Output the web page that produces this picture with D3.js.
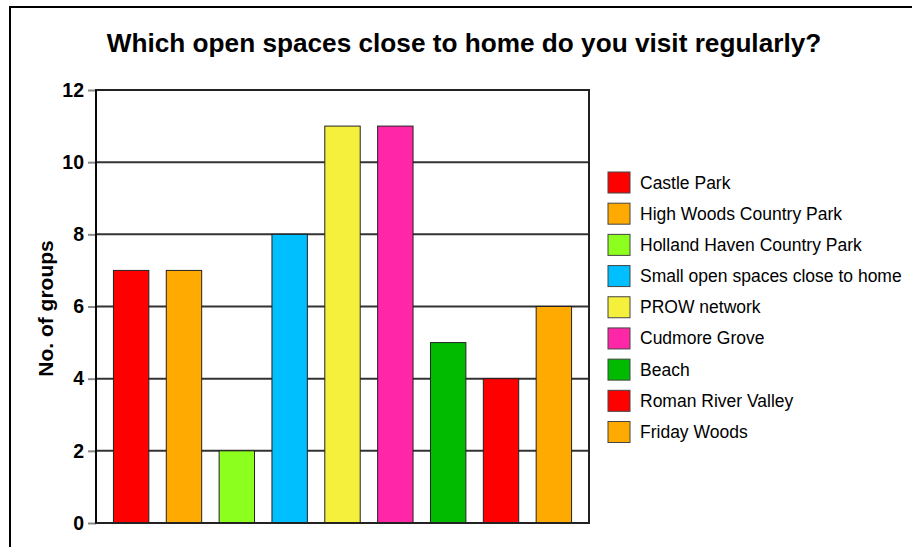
<!DOCTYPE html>
<html>
<head>
<meta charset="utf-8">
<script src="https://cdn.jsdelivr.net/npm/d3@7"></script>
<style>
  html, body { margin: 0; padding: 0; background: #fff; }
  svg { display: block; font-family: "Liberation Sans", Arial, Helvetica, sans-serif; }
</style>
</head>
<body>
<svg id="chart" width="912" height="547"></svg>
<script>
// Survey answers: open spaces visited regularly, counted by group
const categories = [
  "Castle Park",
  "High Woods Country Park",
  "Holland Haven Country Park",
  "Small open spaces close to home",
  "PROW network",
  "Cudmore Grove",
  "Beach",
  "Roman River Valley",
  "Friday Woods"
];
const groupCounts = [7, 7, 2, 8, 11, 11, 5, 4, 6];
const barColors = [
  "#ff0000", "#ffaa00", "#8cff1e", "#00bfff", "#f5f03c",
  "#ff26a8", "#00bb00", "#ff0000", "#ffaa00"
];
const yTicks = [0, 2, 4, 6, 8, 10, 12];
const titleText = "Which open spaces close to home do you visit regularly?";
const yAxisTitle = "No. of groups";

const svg = d3.select("#chart");
const W = 912, H = 547;
const plot = { left: 96, right: 589, top: 90, bottom: 523 };

// Outer frame of the chart
svg.append("rect")
  .attr("x", 10).attr("y", 7)
  .attr("width", W + 20).attr("height", H + 20)
  .attr("fill", "#fff").attr("stroke", "#000").attr("stroke-width", 2);

// Title
svg.append("text")
  .attr("x", 464).attr("y", 52)
  .attr("text-anchor", "middle")
  .attr("font-size", 26.2).attr("font-weight", "bold")
  .attr("fill", "#000")
  .text(titleText);

const x = d3.scaleBand()
  .domain(categories)
  .range([plot.left, plot.right])
  .paddingInner(0.33)
  .paddingOuter(0.33);

const y = d3.scaleLinear()
  .domain([0, 12])
  .range([plot.bottom, plot.top]);

// Horizontal gridlines
svg.append("g")
  .selectAll("line")
  .data(yTicks)
  .join("line")
  .attr("x1", plot.left).attr("x2", plot.right)
  .attr("y1", d => y(d)).attr("y2", d => y(d))
  .attr("stroke", "#333").attr("stroke-width", 2);

// Y axis with ticks and bold labels
const yAxis = svg.append("g")
  .attr("transform", `translate(${plot.left},0)`)
  .call(d3.axisLeft(y).tickValues(yTicks).tickSize(8).tickPadding(4).tickFormat(d3.format("d")));
yAxis.select(".domain").remove();
yAxis.selectAll(".tick line").attr("stroke", "#888").attr("stroke-width", 2);
yAxis.selectAll(".tick text")
  .attr("font-family", "Liberation Sans, Arial, sans-serif")
  .attr("font-size", 19.5).attr("font-weight", "bold").attr("fill", "#000");

// Bars
svg.append("g")
  .selectAll("rect")
  .data(categories)
  .join("rect")
  .attr("x", d => x(d))
  .attr("y", (d, i) => y(groupCounts[i]))
  .attr("width", x.bandwidth())
  .attr("height", (d, i) => y(0) - y(groupCounts[i]))
  .attr("fill", (d, i) => barColors[i])
  .attr("stroke", "#222").attr("stroke-width", 1);

// Plot frame
svg.append("rect")
  .attr("x", plot.left).attr("y", plot.top)
  .attr("width", plot.right - plot.left).attr("height", plot.bottom - plot.top)
  .attr("fill", "none").attr("stroke", "#222").attr("stroke-width", 2);
svg.append("line")
  .attr("x1", plot.left).attr("x2", plot.left)
  .attr("y1", plot.top).attr("y2", plot.bottom)
  .attr("stroke", "#000").attr("stroke-width", 1.5);

// Y axis title
svg.append("text")
  .attr("transform", `translate(53,${(plot.top + plot.bottom) / 2 + 2}) rotate(-90)`)
  .attr("text-anchor", "middle")
  .attr("font-size", 21).attr("font-weight", "bold")
  .attr("fill", "#000")
  .text(yAxisTitle);

// Legend
const legend = svg.append("g");
const legendRow = d3.scaleLinear().domain([0, 8]).range([182.5, 432]);
const item = legend.selectAll("g")
  .data(categories)
  .join("g")
  .attr("transform", (d, i) => `translate(608,${legendRow(i)})`);
item.append("rect")
  .attr("x", 0).attr("y", -10.5)
  .attr("width", 22).attr("height", 21)
  .attr("fill", (d, i) => barColors[i])
  .attr("stroke", "#444").attr("stroke-width", 1);
item.append("text")
  .attr("x", 32).attr("y", 6)
  .attr("font-size", 17.5)
  .attr("fill", "#000")
  .text(d => d);
</script>
</body>
</html>
